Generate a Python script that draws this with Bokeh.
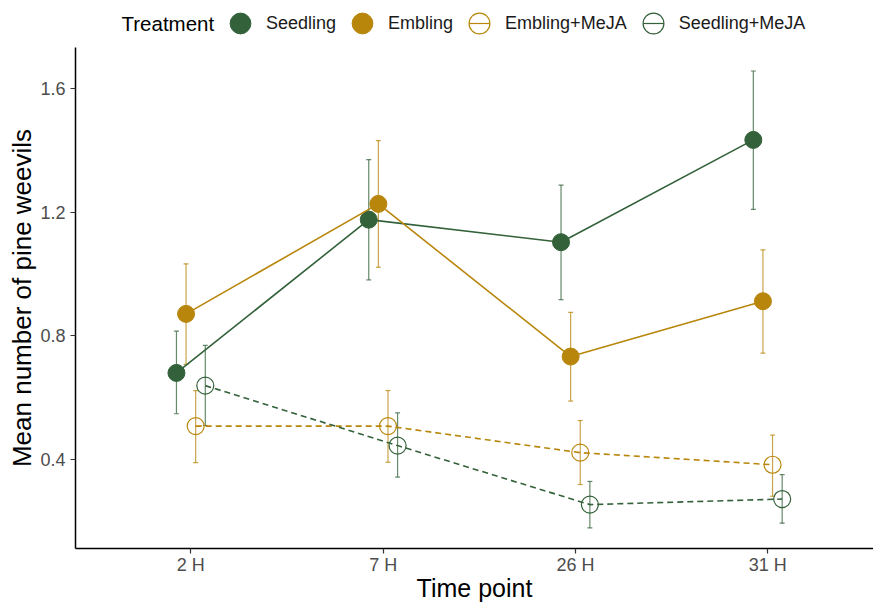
import numpy as np
from bokeh.plotting import figure
from bokeh.layouts import column
from bokeh.models import (ColumnDataSource, Whisker, TeeHead, Legend, LegendItem,
                          FixedTicker, Range1d, Label)
from bokeh.embed import file_html
from bokeh.resources import INLINE

# Mean pine weevil counts with error limits, per treatment and time point
time_points = ["2 H", "7 H", "26 H", "31 H"]
treatments = ["Seedling", "Embling", "Embling+MeJA", "Seedling+MeJA"]

seedling_mean = [0.680, 1.176, 1.103, 1.434]
seedling_lower = [0.548, 0.981, 0.917, 1.209]
seedling_upper = [0.815, 1.370, 1.288, 1.657]

embling_mean = [0.871, 1.227, 0.733, 0.912]
embling_lower = [0.708, 1.022, 0.589, 0.744]
embling_upper = [1.033, 1.432, 0.876, 1.078]

embling_meja_mean = [0.508, 0.508, 0.422, 0.383]
embling_meja_lower = [0.390, 0.391, 0.319, 0.281]
embling_meja_upper = [0.623, 0.623, 0.526, 0.479]

seedling_meja_mean = [0.639, 0.445, 0.254, 0.272]
seedling_meja_lower = [0.510, 0.343, 0.179, 0.194]
seedling_meja_upper = [0.769, 0.551, 0.329, 0.351]

y_ticks = [0.4, 0.8, 1.2, 1.6]
y_tick_labels = ["0.4", "0.8", "1.2", "1.6"]

GREEN = "#33613A"
GOLD = "#B8860B"
FONT = "Liberation Sans"

# name, means, lower, upper, colour, MeJA-treated (open/dashed), dodge offset
series = [
    (treatments[0], seedling_mean, seedling_lower, seedling_upper, GREEN, False, -0.075),
    (treatments[1], embling_mean, embling_lower, embling_upper, GOLD, False, -0.025),
    (treatments[2], embling_meja_mean, embling_meja_lower, embling_meja_upper, GOLD, True, 0.025),
    (treatments[3], seedling_meja_mean, seedling_meja_lower, seedling_meja_upper, GREEN, True, 0.075),
]

base_x = np.arange(1, len(time_points) + 1)

# ---- main plot ----
p = figure(width=873, height=557, x_range=Range1d(0.4, 4.55), y_range=Range1d(0.112, 1.733),
           output_backend="svg", toolbar_location=None,
           min_border_left=75, min_border_right=0, min_border_top=0, min_border_bottom=56)

for name, mean, lower, upper, color, meja, dodge in series:
    src = ColumnDataSource(dict(x=base_x + dodge, mean=mean, lower=lower, upper=upper))
    head = dict(size=5, line_color=color, line_alpha=0.75, line_width=1.2)
    p.add_layout(Whisker(source=src, base="x", upper="upper", lower="lower",
                         line_color=color, line_alpha=0.75, line_width=1.2,
                         upper_head=TeeHead(**head), lower_head=TeeHead(**head)))
    p.line("x", "mean", source=src, line_color=color, line_width=1.6,
           line_dash="6 4" if meja else "solid")
    if meja:
        p.scatter("x", "mean", source=src, marker="circle", size=17,
                  fill_alpha=0, line_color=color, line_width=1.2)
    else:
        p.scatter("x", "mean", source=src, marker="circle", size=17,
                  fill_color=color, line_color=color, line_width=1)

p.xgrid.visible = False
p.ygrid.visible = False
p.outline_line_color = None

p.xaxis.ticker = FixedTicker(ticks=list(base_x))
p.xaxis.major_label_overrides = {int(i): t for i, t in zip(base_x, time_points)}
p.yaxis.ticker = FixedTicker(ticks=y_ticks)
p.yaxis.major_label_overrides = {t: l for t, l in zip(y_ticks, y_tick_labels)}

for ax in (p.xaxis, p.yaxis):
    ax.axis_line_color = "black"
    ax.axis_line_width = 1.5
    ax.major_tick_line_color = "#333333"
    ax.major_tick_line_width = 1.2
    ax.major_tick_out = 5
    ax.major_tick_in = 0
    ax.minor_tick_line_color = None
    ax.major_label_text_font = FONT
    ax.major_label_text_font_size = "18px"
    ax.major_label_text_color = "#4D4D4D"
    ax.axis_label_text_font = FONT
    ax.axis_label_text_font_style = "normal"
    ax.axis_label_text_color = "black"

p.xaxis.axis_label = "Time point"
p.yaxis.axis_label = "Mean number of pine weevils"
p.xaxis.axis_label_text_font_size = "25px"
p.yaxis.axis_label_text_font_size = "26px"
p.xaxis.major_label_standoff = 1
p.xaxis.axis_label_standoff = -4
p.yaxis.major_label_standoff = 5
p.yaxis.axis_label_standoff = 0

# ---- legend strip above the plot (x in page pixels) ----
header = figure(width=873, height=47, x_range=Range1d(75, 873), y_range=Range1d(0, 47),
                x_axis_type=None, y_axis_type=None, output_backend="svg",
                toolbar_location=None, min_border=0, min_border_left=75, min_border_right=0)
header.outline_line_color = None

# hidden renderers carrying each series' style, used only as legend keys
items = []
for name, mean, lower, upper, color, meja, dodge in series:
    if meja:
        r1 = header.scatter(x=list(base_x), y=mean, marker="circle", fill_alpha=0,
                            line_color=color, line_width=1.2, visible=False)
        r2 = header.scatter(x=list(base_x), y=mean, marker="dash",
                            line_color=color, line_width=1.2, visible=False)
        items.append(LegendItem(label=name, renderers=[r1, r2]))
    else:
        r1 = header.scatter(x=list(base_x), y=mean, marker="circle", fill_color=color,
                            line_color=color, visible=False)
        items.append(LegendItem(label=name, renderers=[r1]))

legend = Legend(items=items, orientation="horizontal", location=(139, -2),
                glyph_width=52, glyph_height=52, label_standoff=-4, spacing=0,
                padding=0, margin=0, border_line_color=None, background_fill_alpha=0,
                inactive_fill_alpha=0,
                label_text_font=FONT, label_text_font_size="18px", label_text_color="#1a1a1a")
header.add_layout(legend)

header.add_layout(Label(x=121, y=24, text="Treatment", text_font=FONT, text_font_size="20.5px",
                        text_color="black", text_baseline="middle", text_align="left"))

layout = column(header, p, spacing=0)

open("out.html", "w").write(file_html(layout, INLINE))
